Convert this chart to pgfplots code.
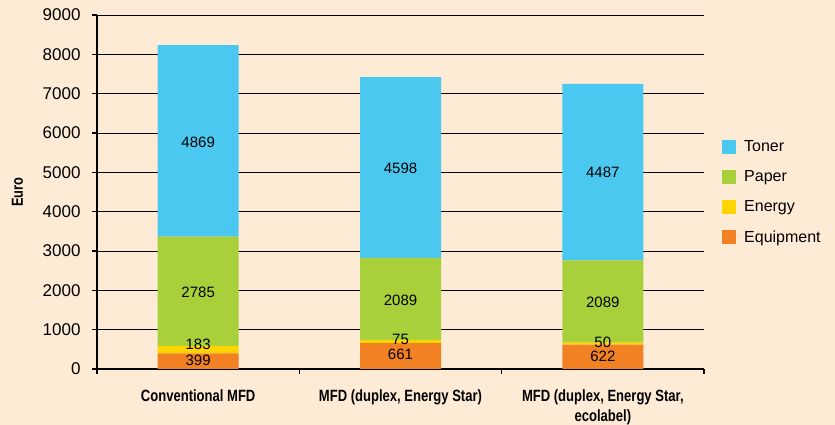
\documentclass[border=0pt]{standalone}
\usepackage{fontspec}
\setmainfont{Liberation Sans}
\newfontfamily\narrowfont[FakeStretch=0.8]{Liberation Sans}
\usepackage{pgfplots}
\usepackage{pgfplotstable}
\pgfplotsset{compat=1.18}

\definecolor{bgpeach}{HTML}{FEEBD6}
\definecolor{toner}{HTML}{4AC8F0}
\definecolor{paper}{HTML}{A8D03A}
\definecolor{energy}{HTML}{FFD400}
\definecolor{equip}{HTML}{F28123}

% cost per device, Euro
\pgfplotstableread{
x equip energy paper toner
0 399 183 2785 4869
1 661 75 2089 4598
2 622 50 2089 4487
}\costs

% value labels and where they sit
\pgfplotstableread{
x y label
0 229 399
0 636 183
0 1950 2785
0 5764 4869
1 381 661
1 763 75
1 1754 2089
1 5103 4598
2 320 622
2 690 50
2 1704 2089
2 4991 4487
}\labels

\pgfplotsset{
  frame/.style={
    at={(97bp,56bp)}, anchor=south west,
    scale only axis, width=607bp, height=354bp,
    xmin=-0.5, xmax=2.5, ymin=0, ymax=9000,
  },
}

\begin{document}
\begin{tikzpicture}
\path[use as bounding box, fill=bgpeach] (0,0) rectangle (835bp,425bp);
\begin{axis}[
  frame,
  ybar stacked,
  bar width=81bp,
  axis x line=bottom, axis y line=left,
  axis line style={-, line width=1.5bp},
  ytick={0,1000,...,9000},
  ymajorgrids,
  grid style={black, line width=0.9bp},
  tick align=outside,
  major tick length=5bp,
  tick style={black, line width=1.2bp},
  xtick={-0.5,0.5,1.5,2.5},
  xticklabels={},
  extra x ticks={0,1,2},
  extra x tick labels={Conventional MFD, MFD (duplex{,} Energy Star), {MFD (duplex, Energy Star,\\ ecolabel)}},
  extra x tick style={major tick length=0pt, grid=none,
    xticklabel style={align=center, yshift=-17bp,
      font=\narrowfont\bfseries\fontsize{16.3bp}{20bp}\selectfont}},
  yticklabel style={font=\fontsize{17bp}{20bp}\selectfont, xshift=-8bp},
  /pgf/number format/assume math mode=true,
  /pgf/number format/1000 sep={},
  ylabel={Euro},
  ylabel style={at={(axis description cs:-0.131,0.5)}, anchor=center,
    font=\narrowfont\bfseries\fontsize{16bp}{18bp}\selectfont},
  reverse legend,
  legend style={draw=none, fill=none, at={(axis description cs:1,0.5)},
    anchor=west, xshift=15bp, row sep=13.5bp,
    font=\fontsize{16bp}{19bp}\selectfont},
  legend cell align=left,
  legend image code/.code={\fill[#1] (0bp,-7bp) rectangle (14bp,7bp);
    \path (14bp,0bp) -- (20bp,0bp);},
]
\addplot[fill=equip, draw=none] table[x=x, y=equip] {\costs};
\addlegendentry{Equipment}
\addplot[fill=energy, draw=none] table[x=x, y=energy] {\costs};
\addlegendentry{Energy}
\addplot[fill=paper, draw=none] table[x=x, y=paper] {\costs};
\addlegendentry{Paper}
\addplot[fill=toner, draw=none] table[x=x, y=toner] {\costs};
\addlegendentry{Toner}
\end{axis}
\begin{axis}[frame, hide axis]
\addplot[only marks, mark=none, nodes near coords, point meta=explicit symbolic,
  every node near coord/.style={anchor=center, font=\fontsize{15bp}{17bp}\selectfont}]
  table[x=x, y=y, meta=label] {\labels};
\end{axis}
\end{tikzpicture}
\end{document}
